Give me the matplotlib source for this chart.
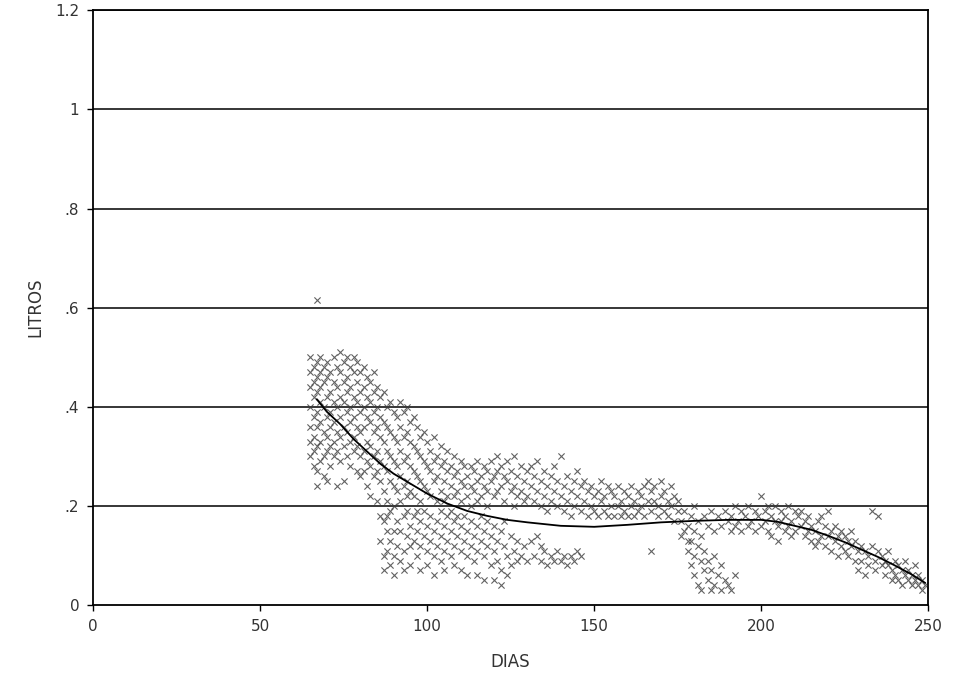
import matplotlib
matplotlib.use('Agg')
import matplotlib.pyplot as plt

# scatter points, grouped by region of DIAS
pts_65_80 = [(65,0.50),(65,0.47),(65,0.44),(65,0.40),(65,0.36),(65,0.33),(65,0.30),
    (66,0.48),(66,0.45),(66,0.42),(66,0.38),(66,0.34),(66,0.31),(66,0.28),
    (67,0.49),(67,0.46),(67,0.43),(67,0.39),(67,0.36),(67,0.32),(67,0.27),(67,0.24),
    (68,0.50),(68,0.47),(68,0.44),(68,0.41),(68,0.37),(68,0.33),(68,0.29),
    (69,0.48),(69,0.45),(69,0.40),(69,0.35),(69,0.30),(69,0.26),
    (70,0.49),(70,0.46),(70,0.42),(70,0.38),(70,0.34),(70,0.31),(70,0.25),
    (71,0.47),(71,0.43),(71,0.39),(71,0.36),(71,0.32),(71,0.28),
    (72,0.50),(72,0.45),(72,0.41),(72,0.37),(72,0.33),(72,0.30),
    (73,0.48),(73,0.44),(73,0.40),(73,0.35),(73,0.31),(73,0.24),
    (74,0.51),(74,0.47),(74,0.42),(74,0.38),(74,0.34),(74,0.29),
    (75,0.49),(75,0.45),(75,0.41),(75,0.36),(75,0.32),(75,0.25),
    (76,0.50),(76,0.46),(76,0.43),(76,0.39),(76,0.35),(76,0.30),
    (77,0.48),(77,0.44),(77,0.40),(77,0.37),(77,0.33),(77,0.28),
    (78,0.50),(78,0.47),(78,0.42),(78,0.38),(78,0.34),(78,0.31),
    (79,0.49),(79,0.45),(79,0.41),(79,0.36),(79,0.32),(79,0.27),
    (80,0.47),(80,0.43),(80,0.39),(80,0.35),(80,0.30),(80,0.26),
    (67,0.615)]

pts_80_90 = [(81,0.48),(81,0.44),(81,0.40),(81,0.36),(81,0.31),(81,0.27),
    (82,0.46),(82,0.42),(82,0.38),(82,0.33),(82,0.29),(82,0.24),
    (83,0.45),(83,0.41),(83,0.37),(83,0.32),(83,0.28),(83,0.22),
    (84,0.47),(84,0.43),(84,0.39),(84,0.35),(84,0.30),(84,0.26),
    (85,0.44),(85,0.40),(85,0.36),(85,0.31),(85,0.27),(85,0.21),
    (86,0.42),(86,0.38),(86,0.34),(86,0.29),(86,0.25),(86,0.18),
    (87,0.43),(87,0.37),(87,0.33),(87,0.28),(87,0.23),(87,0.17),
    (88,0.40),(88,0.36),(88,0.31),(88,0.27),(88,0.21),(88,0.18),
    (89,0.41),(89,0.35),(89,0.30),(89,0.25),(89,0.19),
    (90,0.39),(90,0.34),(90,0.29),(90,0.24),(90,0.20),(90,0.15)]

pts_90_130_upper = [(91,0.38),(91,0.33),(91,0.28),(91,0.23),
    (92,0.41),(92,0.36),(92,0.31),(92,0.26),(92,0.21),
    (93,0.39),(93,0.34),(93,0.29),(93,0.24),
    (94,0.40),(94,0.35),(94,0.30),(94,0.25),(94,0.22),
    (95,0.37),(95,0.33),(95,0.28),(95,0.23),
    (96,0.38),(96,0.32),(96,0.27),(96,0.22),
    (97,0.36),(97,0.31),(97,0.26),
    (98,0.34),(98,0.30),(98,0.25),(98,0.21),
    (99,0.35),(99,0.29),(99,0.24),
    (100,0.33),(100,0.28),(100,0.23),
    (101,0.31),(101,0.27),(101,0.22),
    (102,0.34),(102,0.29),(102,0.25),
    (103,0.30),(103,0.26),(103,0.21),
    (104,0.32),(104,0.28),(104,0.23),
    (105,0.29),(105,0.25),(105,0.21),
    (106,0.31),(106,0.27),(106,0.22),
    (107,0.28),(107,0.24),
    (108,0.30),(108,0.26),(108,0.22),
    (109,0.27),(109,0.23),
    (110,0.29),(110,0.25),(110,0.21),
    (111,0.28),(111,0.24),
    (112,0.26),(112,0.22),
    (113,0.28),(113,0.24),(113,0.20),
    (114,0.27),(114,0.23),
    (115,0.29),(115,0.25),(115,0.21),
    (116,0.26),(116,0.22),
    (117,0.28),(117,0.24),
    (118,0.27),(118,0.23),(118,0.20),
    (119,0.29),(119,0.25),
    (120,0.26),(120,0.22),
    (121,0.30),(121,0.27),(121,0.23),
    (122,0.28),(122,0.24),
    (123,0.26),(123,0.21),
    (124,0.29),(124,0.25),
    (125,0.27),(125,0.23),
    (126,0.30),(126,0.24),(126,0.20),
    (127,0.26),(127,0.22),
    (128,0.28),(128,0.23),
    (129,0.25),(129,0.21),
    (130,0.27),(130,0.22)]

pts_86_130_lower = [(86,0.13),(87,0.10),(87,0.07),(88,0.15),(88,0.11),(89,0.08),(89,0.13),
    (90,0.10),(90,0.06),(91,0.17),(91,0.12),(92,0.09),(92,0.15),(93,0.18),(93,0.11),
    (93,0.07),(94,0.14),(94,0.19),(95,0.16),(95,0.12),(95,0.08),(96,0.18),(96,0.13),
    (97,0.15),(97,0.10),(97,0.19),(98,0.17),(98,0.12),(98,0.07),(99,0.14),(99,0.19),
    (100,0.16),(100,0.11),(100,0.08),(101,0.18),(101,0.13),(102,0.15),(102,0.10),
    (102,0.06),(103,0.17),(103,0.12),(104,0.19),(104,0.14),(104,0.09),(105,0.16),
    (105,0.11),(105,0.07),(106,0.18),(106,0.13),(107,0.15),(107,0.10),(107,0.19),
    (108,0.17),(108,0.12),(108,0.08),(109,0.14),(109,0.18),(110,0.16),(110,0.11),
    (110,0.07),(111,0.13),(111,0.18),(112,0.15),(112,0.10),(112,0.06),(113,0.17),
    (113,0.12),(114,0.14),(114,0.09),(115,0.16),(115,0.11),(115,0.06),(116,0.13),
    (116,0.18),(117,0.15),(117,0.10),(117,0.05),(118,0.12),(118,0.17),(119,0.14),
    (119,0.08),(120,0.16),(120,0.11),(120,0.05),(121,0.13),(121,0.09),(122,0.15),
    (122,0.07),(122,0.04),(123,0.12),(123,0.17),(124,0.10),(124,0.06),(125,0.14),
    (125,0.08),(126,0.11),(127,0.13),(127,0.09),(128,0.10),(129,0.12),(130,0.09),
    (131,0.13),(133,0.14),(134,0.12),
    (132,0.10),(134,0.09),(135,0.11),(136,0.08),(137,0.10),(138,0.09),(139,0.11),
    (140,0.09),(141,0.10),(142,0.08),(143,0.10),(144,0.09),(145,0.11),(146,0.10)]

pts_130_175 = [(131,0.28),(131,0.24),(132,0.26),(132,0.21),(133,0.29),(133,0.23),
    (134,0.25),(134,0.20),(135,0.27),(135,0.22),(136,0.24),(136,0.19),(137,0.26),
    (137,0.21),(138,0.23),(138,0.28),(139,0.25),(139,0.20),(140,0.30),(140,0.22),
    (141,0.24),(141,0.19),(142,0.26),(142,0.21),(143,0.23),(143,0.18),(144,0.25),
    (144,0.20),(145,0.22),(145,0.27),(146,0.24),(146,0.19),(147,0.21),(147,0.25),
    (148,0.23),(148,0.18),(149,0.20),(149,0.24),(150,0.22),(150,0.19),(151,0.23),
    (151,0.18),(152,0.21),(152,0.25),(153,0.19),(153,0.22),(154,0.24),(154,0.18),
    (155,0.20),(155,0.23),(156,0.22),(156,0.18),(157,0.24),(157,0.20),(158,0.21),
    (158,0.18),(159,0.23),(159,0.19),(160,0.22),(160,0.18),(161,0.20),(161,0.24),
    (162,0.21),(162,0.18),(163,0.23),(163,0.19),(164,0.22),(164,0.20),(165,0.24),
    (165,0.18),(166,0.21),(166,0.25),(167,0.19),(167,0.23),(168,0.21),(168,0.24),
    (169,0.20),(169,0.18),(170,0.22),(170,0.25),(171,0.19),(171,0.23),(172,0.21),
    (172,0.18),(173,0.24),(173,0.20),(174,0.22),(174,0.17),(175,0.19),(175,0.21),
    (167,0.11)]

pts_175_190 = [(176,0.17),(176,0.14),(177,0.19),(177,0.15),(178,0.16),(178,0.13),
    (179,0.18),(180,0.15),(180,0.20),(181,0.17),(182,0.14),(183,0.18),(184,0.16),
    (185,0.19),(186,0.15),(187,0.18),(188,0.16),(189,0.19),(190,0.17),
    (178,0.11),(179,0.08),(179,0.13),(180,0.10),(180,0.06),(181,0.12),(181,0.04),
    (182,0.09),(182,0.03),(183,0.07),(183,0.11),(184,0.05),(184,0.09),(185,0.03),
    (185,0.07),(186,0.04),(186,0.10),(187,0.06),(188,0.03),(188,0.08),(189,0.05),
    (190,0.04),(191,0.03),(192,0.06)]

pts_190_215 = [(191,0.18),(191,0.15),(192,0.20),(192,0.16),(193,0.17),(194,0.19),
    (194,0.15),(195,0.18),(196,0.20),(196,0.16),(197,0.17),(198,0.19),(198,0.15),
    (199,0.18),(200,0.22),(200,0.16),(201,0.19),(201,0.17),(202,0.20),(202,0.15),
    (203,0.18),(203,0.14),(204,0.17),(204,0.20),(205,0.16),(205,0.13),(206,0.19),
    (206,0.17),(207,0.15),(207,0.18),(208,0.20),(208,0.16),(209,0.17),(209,0.14),
    (210,0.19),(210,0.15),(211,0.18),(212,0.16),(212,0.19),(213,0.14),(213,0.17),
    (214,0.15),(214,0.18),(215,0.16),(215,0.13)]

pts_215_250 = [(216,0.15),(216,0.12),(217,0.17),(217,0.13),(218,0.18),(218,0.14),
    (219,0.12),(219,0.16),(220,0.19),(220,0.14),(221,0.11),(221,0.15),(222,0.13),
    (222,0.16),(223,0.10),(223,0.14),(224,0.12),(224,0.15),(225,0.11),(225,0.14),
    (226,0.13),(226,0.10),(227,0.12),(227,0.15),(228,0.09),(228,0.13),(229,0.11),
    (229,0.07),(230,0.12),(230,0.09),(231,0.06),(231,0.11),(232,0.10),(232,0.08),
    (233,0.12),(233,0.19),(234,0.09),(234,0.07),(235,0.18),(235,0.11),(236,0.08),
    (236,0.10),(237,0.06),(237,0.09),(238,0.08),(238,0.11),(239,0.07),(239,0.05),
    (240,0.09),(240,0.06),(241,0.08),(241,0.05),(242,0.07),(242,0.04),(243,0.06),
    (243,0.09),(244,0.05),(244,0.07),(245,0.04),(245,0.06),(246,0.05),(246,0.08),
    (247,0.04),(247,0.06),(248,0.03),(248,0.05),(249,0.04)]

# fitted curve
curve_dias = [67, 70, 74, 78, 82, 86, 90, 95, 100, 106, 112, 118, 124, 130, 140, 150,
              160, 170, 180, 190, 200, 205, 210, 215, 220, 225, 230, 235, 240, 245, 249]
curve_litros = [0.415, 0.39, 0.365, 0.335, 0.31, 0.285, 0.265, 0.245, 0.225, 0.205, 0.19,
                0.18, 0.172, 0.167, 0.16, 0.158, 0.162, 0.167, 0.17, 0.172, 0.172, 0.168,
                0.16, 0.152, 0.14, 0.127, 0.112, 0.097, 0.08, 0.062, 0.045]

x_ticks = [0, 50, 100, 150, 200, 250]
y_ticks = [0, 0.2, 0.4, 0.6, 0.8, 1.0, 1.2]
y_labels = ['0', '.2', '.4', '.6', '.8', '1', '1.2']

fig = plt.figure(figsize=(9.59, 6.83), dpi=100)
ax = fig.add_axes([0.097, 0.114, 0.871, 0.871])

groups = [pts_65_80, pts_80_90, pts_90_130_upper, pts_86_130_lower,
          pts_130_175, pts_175_190, pts_190_215, pts_215_250]
for g in groups:
    xs = [p[0] for p in g]
    ys = [p[1] for p in g]
    ax.scatter(xs, ys, marker='x', s=20, linewidths=0.8, color='#3a3a3a', alpha=0.8, zorder=2)

ax.plot(curve_dias, curve_litros, color='black', lw=1.3, zorder=3)

for yv in y_ticks[1:]:
    ax.axhline(yv, color='black', lw=1.1, zorder=1)

ax.set_xlim(0, 250)
ax.set_ylim(0, 1.2)
ax.set_xticks(x_ticks)
ax.set_yticks(y_ticks)
ax.set_yticklabels(y_labels)
ax.tick_params(direction='out', length=4, width=1, labelsize=11, labelcolor='#333333', pad=6)
for s in ax.spines.values():
    s.set_linewidth(1.3)
    s.set_color('black')

ax.set_xlabel('DIAS', fontsize=12, color='#333333', labelpad=14)
ax.set_ylabel('LITROS', fontsize=12, color='#333333', labelpad=8)

fig.savefig('out.png', dpi=100)
